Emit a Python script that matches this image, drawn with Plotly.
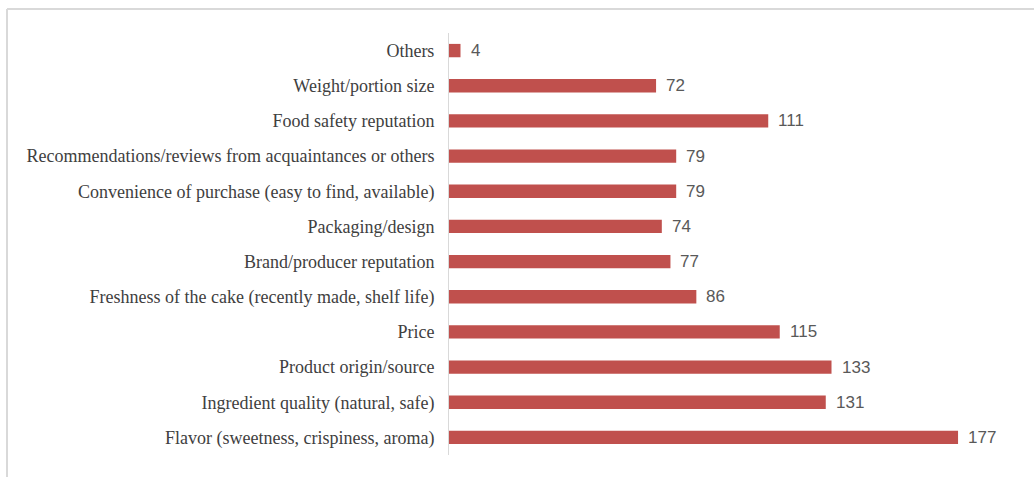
import plotly.graph_objects as go

categories = [
    "Flavor (sweetness, crispiness, aroma)",
    "Ingredient quality (natural, safe)",
    "Product origin/source",
    "Price",
    "Freshness of the cake (recently made, shelf life)",
    "Brand/producer reputation",
    "Packaging/design",
    "Convenience of purchase (easy to find, available)",
    "Recommendations/reviews from acquaintances or others",
    "Food safety reputation",
    "Weight/portion size",
    "Others",
]
values = [177, 131, 133, 115, 86, 77, 74, 79, 79, 111, 72, 4]

W_PX, H_PX = 1034, 477
L, R, T, B = 449, 24, 33, 22
pw = W_PX - L - R
ph = H_PX - T - B

fig = go.Figure()
fig.add_trace(go.Bar(
    x=values, y=categories, orientation="h",
    marker=dict(color="#C0504D", line=dict(width=0)),
    hoverinfo="x+y",
))

for v, c in zip(values, categories):
    fig.add_annotation(x=v, y=c, text=str(v), showarrow=False,
                       xanchor="left", yanchor="middle", xshift=8, yshift=0,
                       font=dict(family="Liberation Sans Narrow, Liberation Sans", size=17, color="#595959"))

# light frame around chart (top and left edges visible)
x_left = (7 - L) / pw
y_top = 1 + (T - 9) / ph
fig.add_shape(type="line", xref="paper", yref="paper", x0=x_left, x1=2, y0=y_top, y1=y_top,
              line=dict(color="#D9D9D9", width=2))
fig.add_shape(type="line", xref="paper", yref="paper", x0=x_left, x1=x_left, y0=-1, y1=y_top,
              line=dict(color="#D9D9D9", width=2))

fig.update_layout(
    width=W_PX, height=H_PX,
    margin=dict(l=L, r=R, t=T, b=B, pad=0),
    paper_bgcolor="white", plot_bgcolor="white",
    bargap=0.62,
    showlegend=False,
    xaxis=dict(range=[0, pw / 2.876], visible=False, showgrid=False, zeroline=False),
    yaxis=dict(showline=True, linecolor="#D9D9D9", linewidth=1, showgrid=False,
               ticks="", ticklabelstandoff=10,
               tickfont=dict(family="Liberation Serif", size=18, color="#404040")),
)

fig.write_html("out.html")
